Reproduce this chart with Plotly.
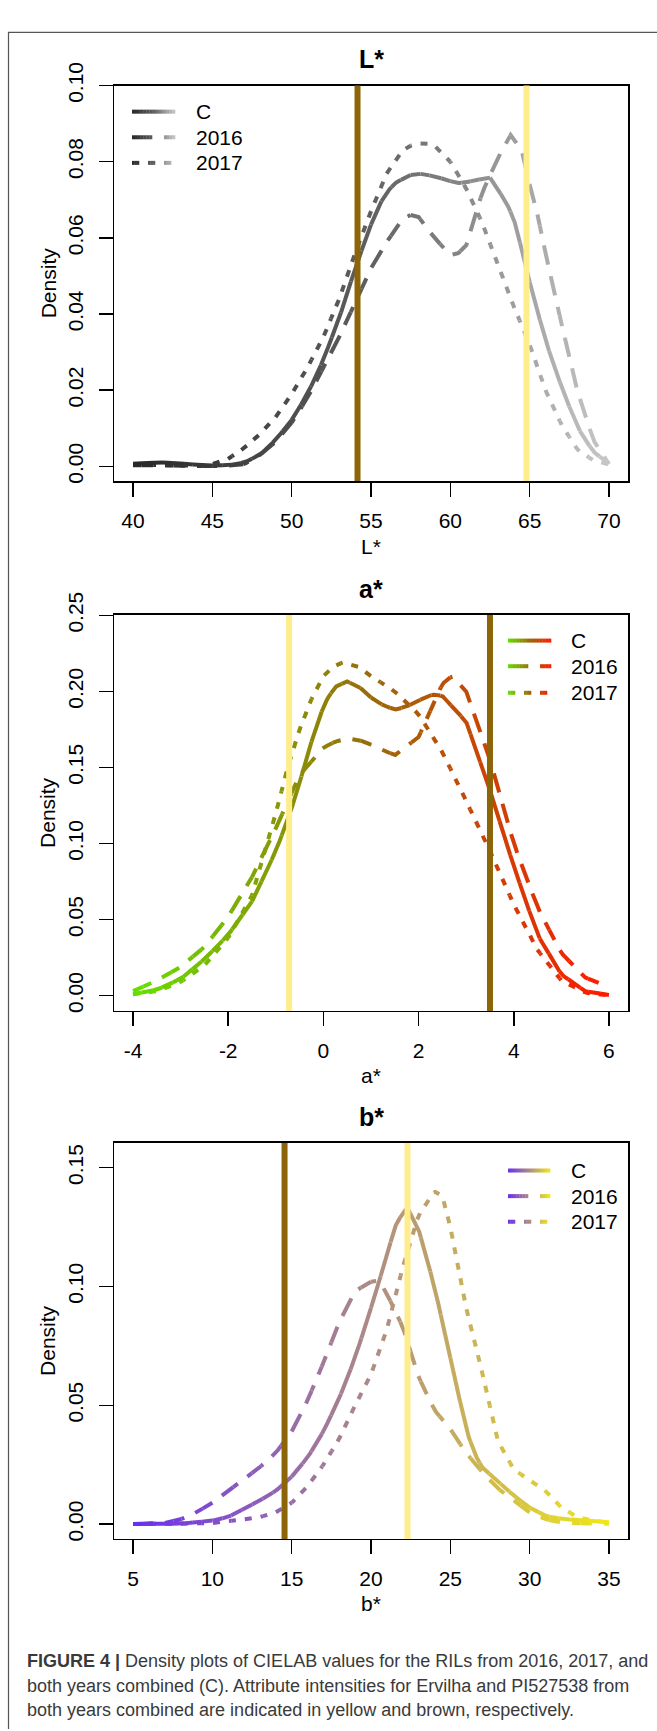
import numpy as np
import plotly.graph_objects as go

W, H = 657, 1731
FONT = "Liberation Sans, Arial, Helvetica, sans-serif"

# ---------------- data ----------------
# L* panel
L_C_x = [40, 41, 42, 43, 44, 45, 46, 47, 48, 49, 50, 51, 52, 53, 54, 55, 55.5, 56, 56.5, 57, 57.5, 58, 59, 60, 60.5, 61, 62, 62.5, 63, 63.5, 64, 64.5, 65, 66, 67, 68, 69, 70]
L_C_y = [0.0007, 0.0009, 0.001, 0.0008, 0.0004, 0.0002, 0.0003, 0.001, 0.003, 0.007, 0.0122, 0.019, 0.028, 0.039, 0.052, 0.0635, 0.0685, 0.072, 0.0743, 0.0755, 0.0765, 0.0769, 0.0762, 0.0749, 0.0744, 0.0746, 0.0755, 0.0758, 0.0727, 0.0695, 0.0650, 0.057, 0.0485, 0.033, 0.021, 0.0104, 0.0039, 0.0007]
L_16_x = [40, 42, 44, 45, 46, 47, 48, 49, 50, 51, 52, 53, 54, 55, 56, 57, 57.5, 58, 59, 60, 60.5, 61, 62, 63, 63.8, 64.5, 65, 65.5, 66, 67, 68, 69, 70]
L_16_y = [0.0003, 0.0003, 0.0001, 0.0001, 0.0002, 0.0006, 0.003, 0.0065, 0.0115, 0.018, 0.026, 0.034, 0.043, 0.052, 0.059, 0.065, 0.066, 0.0655, 0.060, 0.0555, 0.056, 0.058, 0.0718, 0.081, 0.087, 0.083, 0.074, 0.066, 0.056, 0.0376, 0.020, 0.007, 0.0006]
L_17_x = [40, 42, 44, 45, 46, 47, 48, 49, 50, 51, 52, 53, 54, 55, 56, 57, 57.5, 58, 58.5, 59, 60, 61, 62, 63, 64, 65, 66, 67, 68, 69, 70]
L_17_y = [0.0005, 0.0003, 0.0002, 0.0006, 0.002, 0.0048, 0.0085, 0.013, 0.019, 0.026, 0.034, 0.044, 0.056, 0.067, 0.077, 0.083, 0.0842, 0.0848, 0.0848, 0.0842, 0.080, 0.073, 0.064, 0.053, 0.042, 0.032, 0.020, 0.011, 0.0045, 0.0016, 0.0005]

# a* panel
A_C_x = [-4, -3.5, -3, -2.5, -2, -1.5, -1, -0.7, -0.5, -0.25, 0, 0.1, 0.25, 0.5, 0.75, 1, 1.25, 1.5, 1.75, 2, 2.3, 2.5, 3, 3.5, 4, 4.5, 5, 5.5, 6]
A_C_y = [0.001, 0.004, 0.011, 0.024, 0.040, 0.062, 0.095, 0.120, 0.140, 0.167, 0.190, 0.196, 0.203, 0.2065, 0.203, 0.196, 0.191, 0.188, 0.190, 0.194, 0.198, 0.197, 0.180, 0.135, 0.085, 0.040, 0.014, 0.003, 0.0005]
A_16_x = [-4, -3.5, -3, -2.5, -2, -1.5, -1, -0.5, 0, 0.25, 0.5, 0.75, 1, 1.5, 2, 2.5, 2.7, 3, 3.5, 4, 4.5, 5, 5.5, 5.9]
A_16_y = [0.003, 0.010, 0.019, 0.032, 0.052, 0.078, 0.110, 0.145, 0.163, 0.167, 0.169, 0.168, 0.165, 0.158, 0.170, 0.205, 0.210, 0.200, 0.155, 0.100, 0.058, 0.028, 0.012, 0.007]
A_17_x = [-4, -3.5, -3, -2.5, -2, -1.5, -1, -0.75, -0.5, -0.25, 0, 0.2, 0.4, 0.75, 1, 1.5, 2, 2.5, 3, 3.5, 4, 4.5, 5, 5.5, 6]
A_17_y = [0.001, 0.003, 0.009, 0.020, 0.038, 0.066, 0.120, 0.150, 0.175, 0.195, 0.210, 0.216, 0.219, 0.216, 0.210, 0.200, 0.185, 0.160, 0.128, 0.095, 0.060, 0.030, 0.010, 0.002, 0.0003]

# b* panel
B_C_x = [5, 8, 10, 11, 12, 13, 14, 15, 16, 17, 18, 19, 20, 21, 21.5, 22, 22.3, 23, 24, 25, 25.5, 26, 26.5, 27, 28, 29, 30, 31, 32, 33, 34, 35]
B_C_y = [0.0001, 0.0002, 0.0015, 0.003, 0.0065, 0.010, 0.014, 0.020, 0.028, 0.039, 0.053, 0.070, 0.091, 0.113, 0.125, 0.131, 0.133, 0.124, 0.100, 0.070, 0.055, 0.040, 0.030, 0.024, 0.018, 0.012, 0.007, 0.0035, 0.0022, 0.0018, 0.0013, 0.0008]
B_16_x = [5, 7, 8, 9, 10, 11, 12, 13, 14, 15, 16, 17, 18, 19, 20, 20.5, 21, 22, 23, 24, 25, 26, 27, 28, 29, 30, 31, 32, 33, 35]
B_16_y = [0.0001, 0.0005, 0.002, 0.005, 0.009, 0.014, 0.019, 0.024, 0.030, 0.039, 0.052, 0.068, 0.085, 0.098, 0.102, 0.1025, 0.097, 0.083, 0.062, 0.048, 0.040, 0.030, 0.022, 0.015, 0.010, 0.005, 0.002, 0.0008, 0.0004, 0.0002]
B_17_x = [5, 8, 10, 12, 13, 14, 15, 16, 17, 18, 19, 20, 21, 22, 23, 24, 24.5, 25, 26, 27, 28, 29, 30, 31, 32, 33, 34, 35]
B_17_y = [0.0001, 0.0002, 0.0005, 0.002, 0.003, 0.005, 0.009, 0.016, 0.025, 0.036, 0.050, 0.063, 0.082, 0.108, 0.130, 0.140, 0.138, 0.125, 0.091, 0.064, 0.035, 0.023, 0.0185, 0.014, 0.007, 0.003, 0.0015, 0.0005]

# parent intensities (yellow = Ervilha, brown = PI527538)
ERVILHA = {"L": 64.8, "a": -0.72, "b": 22.3}
PI527538 = {"L": 54.15, "a": 3.5, "b": 14.55}

SERIES_NAMES = ["C", "2016", "2017"]
TITLES = {"L": "L*", "a": "a*", "b": "b*"}
X_TICKS = {"L": [40, 45, 50, 55, 60, 65, 70], "a": [-4, -2, 0, 2, 4, 6], "b": [5, 10, 15, 20, 25, 30, 35]}
Y_TICKS = {"L": [0.00, 0.02, 0.04, 0.06, 0.08, 0.10], "a": [0.00, 0.05, 0.10, 0.15, 0.20, 0.25], "b": [0.00, 0.05, 0.10, 0.15]}

# ---------------- style / layout ----------------
PANELS = {
    "L": dict(box=(114, 628, 62.5, 464), xr=(38.8, 71.2), yr=(-0.00385, 0.1), xspan=(40, 70),
              stops=[(0, (40, 40, 40)), (0.5, (95, 95, 95)), (1, (200, 200, 200))],
              data=[(L_C_x, L_C_y), (L_16_x, L_16_y), (L_17_x, L_17_y)],
              legend=dict(x0=132, x1=175, ys=[89, 115, 141], tx=194)),
    "a": dict(box=(114, 628, 600, 1002), xr=(-4.4, 6.4), yr=(-0.0100, 0.2502), xspan=(-4, 6),
              stops=[(0, (102, 224, 0)), (0.5, (154, 106, 10)), (1, (255, 26, 0))],
              data=[(A_C_x, A_C_y), (A_16_x, A_16_y), (A_17_x, A_17_y)],
              legend=dict(x0=508, x1=551, ys=[626, 652, 679], tx=569)),
    "b": dict(box=(114, 628, 1136, 1538), xr=(3.8, 36.2), yr=(-0.0062, 0.1604), xspan=(5, 35),
              stops=[(0, (106, 46, 240)), (1, (240, 232, 24))],
              data=[(B_C_x, B_C_y), (B_16_x, B_16_y), (B_17_x, B_17_y)],
              legend=dict(x0=508, x1=550, ys=[1164, 1190, 1216], tx=569)),
}
DASH = [None, (20, 12), (7, 9)]
LW = 4
NBINS = 48


def xp(px):
    return px / W


def yp(py):
    return 1 - py / H


def ramp(stops, t):
    t = min(max(t, 0), 1)
    for (t0, c0), (t1, c1) in zip(stops[:-1], stops[1:]):
        if t <= t1:
            f = (t - t0) / (t1 - t0) if t1 > t0 else 0
            return tuple(int(round(c0[i] + f * (c1[i] - c0[i]))) for i in range(3))
    return stops[-1][1]


def rgb(c):
    return "rgb(%d,%d,%d)" % c


fig = go.Figure()
shapes = []
annotations = []
layout_axes = {}

for k, (key, P) in enumerate(PANELS.items()):
    L, R, T, B = P["box"]
    (x0, x1), (y0, y1) = P["xr"], P["yr"]
    xa = "x" if k == 0 else "x%d" % (k + 1)
    ya = "y" if k == 0 else "y%d" % (k + 1)
    sx = (R - L) / (x1 - x0)
    sy = (B - T) / (y1 - y0)
    xs0, xs1 = P["xspan"]

    bins = {i: ([], []) for i in range(NBINS)}

    def binof(x):
        t = (x - xs0) / (xs1 - xs0)
        return int(min(max(t, 0), 0.9999) * NBINS)

    for si, (xs, ys) in enumerate(P["data"]):
        xs = np.asarray(xs, float)
        ys = np.asarray(ys, float)
        px, py = xs * sx, ys * sy
        s = np.concatenate([[0], np.cumsum(np.hypot(np.diff(px), np.diff(py)))])
        total = s[-1]
        if DASH[si] is None:
            intervals = [(0, total)]
        else:
            on, off = DASH[si]
            intervals = []
            a = 0.0
            while a < total:
                intervals.append((a, min(a + on, total)))
                a += on + off
        for a, b in intervals:
            n = max(2, int(np.ceil((b - a) / 3.0)) + 1)
            sp = np.union1d(np.linspace(a, b, n), s[(s > a) & (s < b)])
            qx = np.interp(sp, s, xs)
            qy = np.interp(sp, s, ys)
            cur = None
            run_x, run_y = [], []
            for j in range(len(sp) - 1):
                bi = binof(0.5 * (qx[j] + qx[j + 1]))
                if bi != cur:
                    if cur is not None:
                        bins[cur][0].extend(run_x + [None])
                        bins[cur][1].extend(run_y + [None])
                    cur = bi
                    run_x, run_y = [qx[j]], [qy[j]]
                run_x.append(qx[j + 1])
                run_y.append(qy[j + 1])
            if cur is not None:
                bins[cur][0].extend(run_x + [None])
                bins[cur][1].extend(run_y + [None])

    for i in range(NBINS):
        bx, by = bins[i]
        if not bx:
            continue
        col = rgb(ramp(P["stops"], (i + 0.5) / NBINS))
        fig.add_trace(go.Scatter(x=bx, y=by, mode="lines", line=dict(color=col, width=LW),
                                 xaxis=xa, yaxis=ya, showlegend=False, hoverinfo="skip",
                                 connectgaps=False))

    common = dict(showgrid=False, zeroline=False, showline=True, linecolor="black", linewidth=1.5,
                  mirror=True, ticks="outside", ticklen=14, tickwidth=1.5, tickcolor="black",
                  tickfont=dict(family=FONT, size=21, color="black"))
    layout_axes["xaxis" if k == 0 else "xaxis%d" % (k + 1)] = dict(
        common, domain=[xp(L), xp(R)], range=[x0, x1], anchor=ya,
        tickvals=X_TICKS[key], ticktext=[str(v) for v in X_TICKS[key]], ticklabelstandoff=6)
    layout_axes["yaxis" if k == 0 else "yaxis%d" % (k + 1)] = dict(
        common, domain=[yp(B), yp(T)], range=[y0, y1], anchor=xa,
        tickvals=Y_TICKS[key], ticktext=["%.2f" % v for v in Y_TICKS[key]], tickangle=-90,
        ticklabelstandoff=7)

    # parent lines
    for val, col in [(PI527538[key], "#8B6508"), (ERVILHA[key], "#FFEC8B")]:
        shapes.append(dict(type="line", xref=xa, yref=ya + " domain", x0=val, x1=val, y0=0, y1=1,
                           line=dict(color=col, width=6), layer="above"))

    # titles
    annotations.append(dict(text="<b>%s</b>" % TITLES[key], x=xp((L + R) / 2), y=yp(T - 26.5),
                            xref="paper", yref="paper", showarrow=False, xanchor="center", yanchor="middle",
                            font=dict(family=FONT, size=25, color="black")))
    annotations.append(dict(text=TITLES[key], x=xp((L + R) / 2), y=yp(B + 66),
                            xref="paper", yref="paper", showarrow=False, xanchor="center", yanchor="middle",
                            font=dict(family=FONT, size=21, color="black")))
    annotations.append(dict(text="Density", x=xp(48), y=yp((T + B) / 2), textangle=-90,
                            xref="paper", yref="paper", showarrow=False, xanchor="center", yanchor="middle",
                            font=dict(family=FONT, size=21, color="black")))

    # legend (gradient samples)
    lg = P["legend"]
    lx0, lx1 = lg["x0"], lg["x1"]
    for si, name in enumerate(SERIES_NAMES):
        yy = lg["ys"][si]
        if DASH[si] is None:
            pieces = [(lx0, lx1)]
        else:
            on, off = DASH[si]
            pieces = []
            a = lx0
            while a < lx1:
                pieces.append((a, min(a + on, lx1)))
                a += on + off
        for a, b in pieces:
            nseg = max(1, int(np.ceil((b - a) / 3.0)))
            edges = np.linspace(a, b, nseg + 1)
            for e0, e1 in zip(edges[:-1], edges[1:]):
                t = (0.5 * (e0 + e1) - lx0) / (lx1 - lx0)
                shapes.append(dict(type="line", xref="paper", yref="paper",
                                   x0=xp(e0), x1=xp(e1 + 0.3), y0=yp(yy), y1=yp(yy),
                                   line=dict(color=rgb(ramp(P["stops"], t)), width=LW)))
        annotations.append(dict(text=name, x=xp(lg["tx"]), y=yp(yy), xref="paper", yref="paper",
                                showarrow=False, xanchor="left", yanchor="middle",
                                font=dict(family=FONT, size=21, color="black")))

# outer frame (top and left edges)
shapes.append(dict(type="line", xref="paper", yref="paper", x0=xp(8), x1=1, y0=yp(8.5), y1=yp(8.5),
                   line=dict(color="#555555", width=1.2)))
shapes.append(dict(type="line", xref="paper", yref="paper", x0=xp(8.5), x1=xp(8.5), y0=yp(8), y1=0,
                   line=dict(color="#555555", width=1.2)))

# caption
CAPTION = [
    "<b>FIGURE 4 |</b> Density plots of CIELAB values for the RILs from 2016, 2017, and",
    "both years combined (C). Attribute intensities for Ervilha and PI527538 from",
    "both years combined are indicated in yellow and brown, respectively.",
]
for i, line in enumerate(CAPTION):
    annotations.append(dict(text=line, x=xp(25), y=yp(1662 + 25 * i), xref="paper", yref="paper",
                            showarrow=False, xanchor="left", yanchor="middle",
                            font=dict(family=FONT, size=18, color="#3a3a3a")))

fig.update_layout(width=W, height=H, margin=dict(l=0, r=0, t=0, b=0),
                  paper_bgcolor="white", plot_bgcolor="white",
                  shapes=shapes, annotations=annotations, **layout_axes)

fig.write_html("out.html", config={"displayModeBar": False, "staticPlot": True},
               post_script="document.body.style.margin='0px';")
